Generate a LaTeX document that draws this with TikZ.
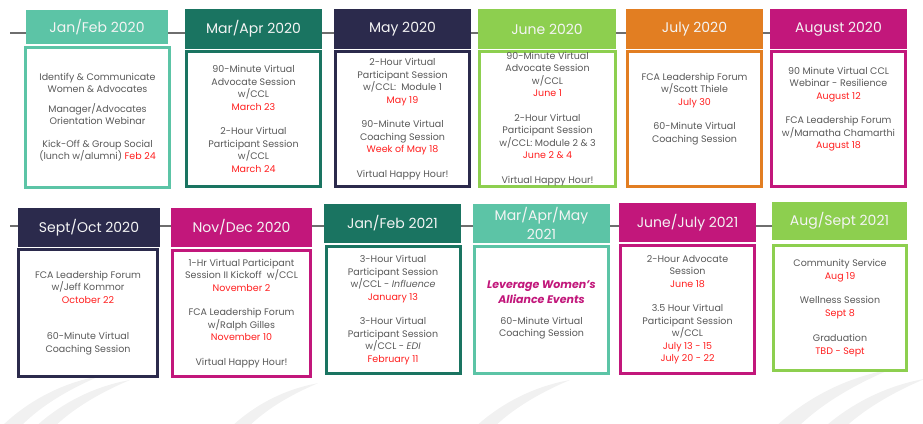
\documentclass[tikz,border=0pt]{standalone}
\usepackage{fontspec}
\setmainfont{Poppins}
\usetikzlibrary{backgrounds}

\definecolor{mint}{HTML}{5CC4A6}
\definecolor{pine}{HTML}{1A7461}
\definecolor{navy}{HTML}{2B2A4C}
\definecolor{lime}{HTML}{8DCF4F}
\definecolor{amber}{HTML}{E27E22}
\definecolor{berry}{HTML}{C2177B}
\definecolor{bodytext}{HTML}{595959}
\definecolor{datered}{HTML}{FF1F1F}
\definecolor{hdrtext}{HTML}{F4F4F4}
\definecolor{linegray}{HTML}{6E6E6E}
\definecolor{leafgray}{HTML}{F1F1F1}

\newcommand{\when}[1]{\textcolor{datered}{#1}}
\newcommand{\lev}[1]{{\fontsize{11}{15}\selectfont\color{berry}\bfseries\itshape #1}}

\tikzset{
	hdr/.style={rectangle, fill=#1, text=hdrtext, inner sep=0pt, minimum width=137pt, minimum height=40pt, align=center, font=\fontsize{14}{19}\selectfont},
	card/.style={rectangle, draw=#1, line width=3pt, fill=white, text=bodytext, inner sep=0pt, align=center, minimum width=134pt, minimum height=135pt, font=\fontsize{9.5}{12.5}\selectfont},
	timeline/.style={draw=linegray, line width=2.5pt},
	leaf/.pic={\fill[leafgray] (0,0) .. controls (25,-25) and (60,-45) .. (100,-52) .. controls (62,-36) and (32,-16) .. (14,6) -- cycle;}
}

\begin{document}
\begin{tikzpicture}[x=1pt, y=-1pt]
	\useasboundingbox (0,0) rectangle (923,423);
	% Faint leaves along the bottom
	\pic at (0,428) {leaf};
	\pic at (30,432) {leaf};
	\pic [scale=0.9] at (228,430) {leaf};
	\pic at (470,432) {leaf};
	\pic [scale=1.2] at (770,432) {leaf};
	\pic [scale=1.1] at (815,436) {leaf};
	% First row headers
	\node [hdr=mint, minimum width=142pt, minimum height=34pt] (hdr-1-1) at (97,27) {Jan/Feb 2020};
	\node [hdr=pine] (hdr-1-2) at (253.5,29) {Mar/Apr 2020};
	\node [hdr=navy] (hdr-1-3) at (402.5,29) {May 2020};
	\node [hdr=lime, minimum width=138pt] (hdr-1-4) at (547,29) {June 2020};
	\node [hdr=amber] (hdr-1-5) at (694.5,29) {July 2020};
	\node [hdr=berry] (hdr-1-6) at (838.5,29) {August 2020};
	% First row cards
	\node [card=mint, minimum width=144pt, minimum height=140pt] (card-1-1) at (97.5,117.5) {Identify \& Communicate\\Women \& Advocates\\[7pt]Manager/Advocates\\Orientation Webinar\\[10pt]Kick-Off \& Group Social\\(lunch w/alumni) \when{Feb 24}};
	\node [card=pine] (card-1-2) at (253.5,119) {90-Minute Virtual\\Advocate Session\\w/CCL\\\when{March 23}\\[12pt]2-Hour Virtual\\Participant Session\\w/CCL\\\when{March 24}};
	\node [card=navy] (card-1-3) at (402.5,119) {2-Hour Virtual\\Participant Session\\w/CCL:~ Module 1\\\when{May 19}\\[12pt]90-Minute Virtual\\Coaching Session\\\when{Week of May 18}\\[12pt]Virtual Happy Hour!};
	\node [card=lime, minimum width=136pt] (card-1-4) at (547.5,119) {90-Minute Virtual\\Advocate Session\\w/CCL\\\when{June 1}\\[12pt]2-Hour Virtual\\Participant Session\\w/CCL: Module 2 \& 3\\\when{June 2 \& 4}\\[12pt]Virtual Happy Hour!};
	\node [card=amber] (card-1-5) at (694.5,119) {FCA Leadership Forum\\w/Scott Thiele\\\when{July 30}\\[12pt]60-Minute Virtual\\Coaching Session\\[10pt]~};
	\node [card=berry] (card-1-6) at (838.5,119) {90 Minute Virtual CCL\\Webinar - Resilience\\\when{August 12}\\[12pt]FCA Leadership Forum\\w/Mamatha Chamarthi\\\when{August 18}\\[10pt]~};
	% Second row headers
	\node [hdr=navy, minimum width=142pt, minimum height=39pt] (hdr-2-1) at (89,227.5) {Sept/Oct 2020};
	\node [hdr=berry, minimum width=141pt, minimum height=39pt] (hdr-2-2) at (241.5,227.5) {Nov/Dec 2020};
	\node [hdr=pine, minimum height=39pt] (hdr-2-3) at (392.5,223.5) {Jan/Feb 2021};
	\node [hdr=mint, minimum height=39pt] (hdr-2-4) at (541.5,223.5) {Mar/Apr/May\\2021};
	\node [hdr=berry, minimum height=39pt] (hdr-2-5) at (687.5,222.5) {June/July 2021};
	\node [hdr=lime, minimum width=135pt, minimum height=38pt] (hdr-2-6) at (839.5,221) {Aug/Sept 2021};
	% Second row cards
	\node [card=navy, minimum width=139pt, minimum height=127pt] (card-2-1) at (88,313) {FCA Leadership Forum\\w/Jeff Kommor\\\when{October 22}\\[24pt]60-Minute Virtual\\Coaching Session};
	\node [card=berry, minimum width=138pt, minimum height=126pt] (card-2-2) at (241.5,313.5) {1-Hr Virtual Participant\\Session II Kickoff~ w/CCL\\\when{November 2}\\[12pt]FCA Leadership Forum\\w/Ralph Gilles\\\when{November 10}\\[12pt]Virtual Happy Hour!};
	\node [card=pine, minimum height=127pt] (card-2-3) at (393,310) {3-Hour Virtual\\Participant Session\\w/CCL - \textit{Influence}\\\when{January 13}\\[12pt]3-Hour Virtual\\Participant Session\\w/CCL - \textit{EDI}\\\when{February 11}};
	\node [card=mint, minimum height=127pt] (card-2-4) at (541.5,310) {\lev{Leverage Women's}\\[2.5pt]\lev{Alliance Events}\\[8pt]60-Minute Virtual\\Coaching Session};
	\node [card=berry, minimum height=128pt] (card-2-5) at (687.5,309.5) {2-Hour Advocate\\Session\\\when{June 18}\\[12pt]3.5 Hour Virtual\\Participant Session\\w/CCL\\\when{July 13 - 15}\\\when{July 20 - 22}};
	\node [card=lime, minimum width=133pt, minimum height=125pt] (card-2-6) at (840,308) {Community Service\\\when{Aug 19}\\[12pt]Wellness Session\\\when{Sept 8}\\[13pt]Graduation\\\when{TBD - Sept}};
	% Timelines behind the headers
	\coordinate (tl-1) at (10,33);
	\coordinate (tl-2) at (10,226);
	\begin{scope}[on background layer]
		\draw [timeline] (tl-1) -- (tl-1 -| hdr-1-6.center);
		\draw [timeline] (tl-2) -- (tl-2 -| hdr-2-6.center);
	\end{scope}
\end{tikzpicture}
\end{document}
